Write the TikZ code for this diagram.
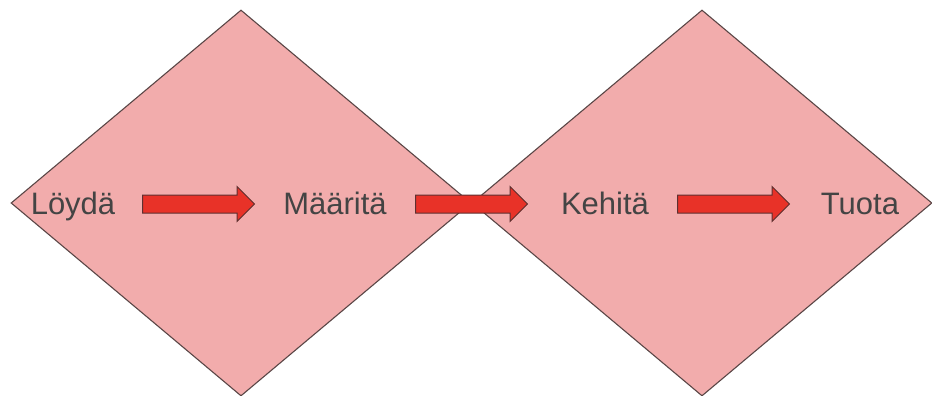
\documentclass[tikz,border=0pt]{standalone}
\usepackage{fontspec}
\setmainfont{Liberation Sans}
\usetikzlibrary{shapes.geometric,shapes.arrows}
\definecolor{pinkfill}{HTML}{F2ACAC}
\definecolor{edgegray}{HTML}{5A4646}
\definecolor{arrowred}{HTML}{E83228}
\definecolor{arrowedge}{HTML}{5E3030}
\definecolor{textgray}{HTML}{444444}
\tikzset{
  phase/.style={diamond, draw=edgegray, fill=pinkfill, line width=1.1pt,
    minimum width=460pt, minimum height=386pt, inner sep=0pt},
  blockarrow/.style={single arrow, draw=arrowedge, fill=arrowred, line width=1pt,
    minimum height=112pt, inner xsep=0pt, inner ysep=8.5pt,
    single arrow head extend=8.5pt, single arrow head indent=0pt, anchor=center},
  label/.style={text=textgray, font=\fontsize{31}{37}\selectfont, anchor=base, inner sep=0pt}
}
\begin{document}
\begin{tikzpicture}[x=1pt,y=-1pt]
\useasboundingbox (0,0) rectangle (932,396);
\node[phase] (d1) at (241,203) {};
\node[phase] (d2) at (702,203) {};
\node[blockarrow] (a1) at (194,204) {};
\node[blockarrow] (a2) at (467,204) {};
\node[blockarrow] (a3) at (729,204) {};
\node[label] (t1) at (73,214) {Löydä};
\node[label] (t2) at (335,214) {Määritä};
\node[label] (t3) at (605,214) {Kehitä};
\node[label] (t4) at (860,214) {Tuota};
\end{tikzpicture}
\end{document}
